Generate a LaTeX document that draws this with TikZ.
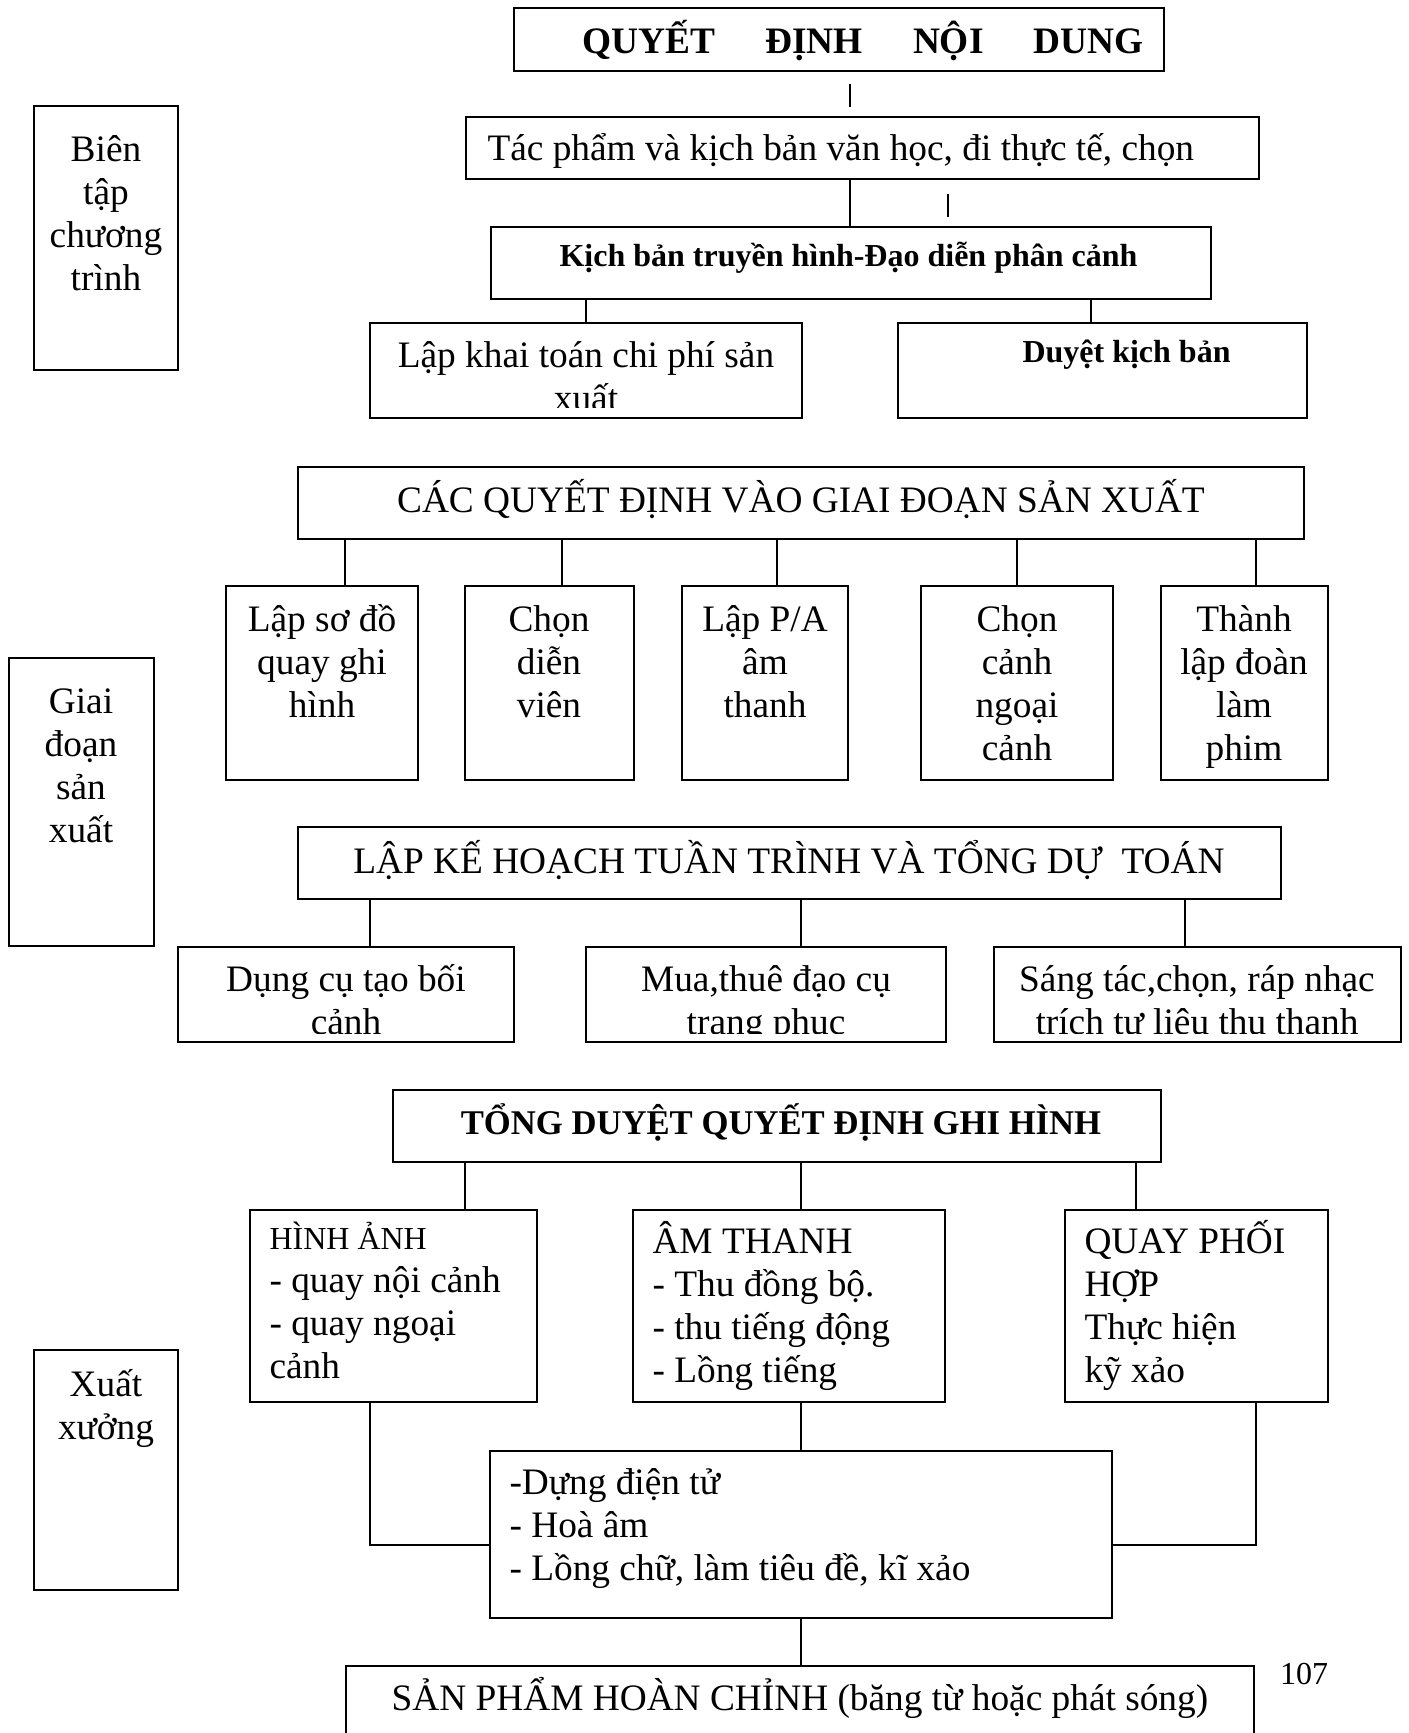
\documentclass[tikz,border=0pt]{standalone}
\usepackage{fontspec}
\setmainfont{Liberation Serif}
\usetikzlibrary{fit}
% type sizes (Word single spacing = 1.15 x size)
\newcommand\fsA{\fontsize{14pt}{16.125pt}\selectfont}
\newcommand\fsB{\fontsize{12pt}{13.8pt}\selectfont}
\newcommand\fsC{\fontsize{13pt}{14.95pt}\selectfont}
% stacked lines whose reference point is the first baseline
\newcommand\colc[1]{\begin{tabular}[t]{@{}c@{}}#1\end{tabular}}
\newcommand\coll[1]{\begin{tabular}[t]{@{}l@{}}#1\end{tabular}}
\begin{document}
\begin{tikzpicture}[x=0.375pt, y=-0.375pt,
  boxn/.style={draw, line width=0.75pt, inner sep=0pt},
  link/.style={line width=0.75pt},
  txc/.style={inner sep=0pt, anchor=base, font=\fsA},
  txl/.style={inner sep=0pt, anchor=base west, font=\fsA},
]
\useasboundingbox (0,0) rectangle (1408,1733);
\fill[white] (0,0) rectangle (1408,1733);
\clip (0,0) rectangle (1408,1733);

% ---------- boxes ----------
\node[boxn, fit={(514,8)(1164,71)}] (top) {};
\node[boxn, fit={(466,117)(1259,179)}] (tac) {};
\node[boxn, fit={(491,227)(1211,299)}] (kich) {};
\node[boxn, fit={(370,323)(802,418)}] (lapkhai) {};
\node[boxn, fit={(898,323)(1307,418)}] (duyet) {};
\node[boxn, fit={(34,106)(178,370)}] (bientap) {};

\node[boxn, fit={(298,467)(1304,539)}] (cac) {};
\node[boxn, fit={(226,586)(418,780)}] (b1) {};
\node[boxn, fit={(465,586)(634,780)}] (b2) {};
\node[boxn, fit={(682,586)(848,780)}] (b3) {};
\node[boxn, fit={(921,586)(1113,780)}] (b4) {};
\node[boxn, fit={(1161,586)(1328,780)}] (b5) {};
\node[boxn, fit={(9,658)(154,946)}] (giai) {};

\node[boxn, fit={(298,827)(1281,899)}] (lapke) {};
\node[boxn, fit={(178,947)(514,1042)}] (d1) {};
\node[boxn, fit={(586,947)(946,1042)}] (d2) {};
\node[boxn, fit={(994,947)(1401,1042)}] (d3) {};

\node[boxn, fit={(393,1090)(1161,1162)}] (tong) {};
\node[boxn, fit={(250,1210)(537,1402)}] (h1) {};
\node[boxn, fit={(633,1210)(945,1402)}] (h2) {};
\node[boxn, fit={(1065,1210)(1328,1402)}] (h3) {};
\node[boxn, fit={(34,1350)(178,1590)}] (xuat) {};
\node[boxn, fit={(490,1451)(1112,1618)}] (dung) {};
\node[boxn, fit={(346,1666)(1254,1780)}] (san) {};

% ---------- connectors ----------
\coordinate (s1a) at (850,84);
\coordinate (s1b) at (850,107);
\coordinate (s2a) at (948,194);
\coordinate (s2b) at (948,217);
\draw[link] (s1a) -- (s1b);
\draw[link] (s2a) -- (s2b);
\coordinate (c850) at (850,0);
\draw[link] (c850 |- tac.south) -- (c850 |- kich.north);
\coordinate (c586) at (586,0);
\coordinate (c1091) at (1091,0);
\draw[link] (c586 |- kich.south) -- (c586 |- lapkhai.north);
\draw[link] (c1091 |- kich.south) -- (c1091 |- duyet.north);

\coordinate (c345) at (345,0);
\coordinate (c562) at (562,0);
\coordinate (c777) at (777,0);
\coordinate (c1017) at (1017,0);
\coordinate (c1256) at (1256,0);
\draw[link] (c345 |- cac.south) -- (c345 |- b1.north);
\draw[link] (c562 |- cac.south) -- (c562 |- b2.north);
\draw[link] (c777 |- cac.south) -- (c777 |- b3.north);
\draw[link] (c1017 |- cac.south) -- (c1017 |- b4.north);
\draw[link] (c1256 |- cac.south) -- (c1256 |- b5.north);

\coordinate (c370) at (370,0);
\coordinate (c801) at (801,0);
\coordinate (c1185) at (1185,0);
\draw[link] (c370 |- lapke.south) -- (c370 |- d1.north);
\draw[link] (c801 |- lapke.south) -- (c801 |- d2.north);
\draw[link] (c1185 |- lapke.south) -- (c1185 |- d3.north);

\coordinate (c465) at (465,0);
\coordinate (c1136) at (1136,0);
\draw[link] (c465 |- tong.south) -- (c465 |- h1.north);
\draw[link] (c801 |- tong.south) -- (c801 |- h2.north);
\draw[link] (c1136 |- tong.south) -- (c1136 |- h3.north);

\coordinate (eL) at (370,1545);
\coordinate (eR) at (1256,1545);
\draw[link] (eL |- h1.south) -- (eL) -- (eL -| dung.west);
\draw[link] (eR |- h3.south) -- (eR) -- (eR -| dung.east);
\draw[link] (c801 |- h2.south) -- (c801 |- dung.north);
\draw[link] (c801 |- dung.south) -- (c801 |- san.north);

% ---------- texts ----------
\node[txl, font=\fsA\bfseries] (t-top) at (582,53)
  {\makebox[210.4pt]{QUYẾT\hfill ĐỊNH\hfill NỘI\hfill DUNG}};
\node[txl] (t-tac) at (487,160) {Tác phẩm và kịch bản văn học, đi thực tế, chọn};
\node[txl, font=\fsB\bfseries] (t-kich) at (559,266) {Kịch bản truyền hình-Đạo diễn phân cảnh};
\begin{scope}
  \clip (lapkhai.north west) rectangle ([yshift=4.4pt]lapkhai.south east);
  \node[txc] (t-lapkhai) at (586,367) {\colc{Lập khai toán chi phí sản\\xuất}};
\end{scope}
\node[txl, font=\fsB\bfseries] (t-duyet) at (1022,362) {Duyệt kịch bản};
\node[txc] (t-bientap) at (106,161) {\colc{Biên\\tập\\chương\\trình}};

\node[txc] (t-cac) at (801,512) {CÁC QUYẾT ĐỊNH VÀO GIAI ĐOẠN SẢN XUẤT};
\node[txc] (t-b1) at (322,631) {\colc{Lập sơ đồ\\quay ghi\\hình}};
\node[txc] (t-b2) at (549,631) {\colc{Chọn\\diễn\\viên}};
\node[txc] (t-b3) at (765,631) {\colc{Lập P/A\\âm\\thanh}};
\node[txc] (t-b4) at (1017,631) {\colc{Chọn\\cảnh\\ngoại\\cảnh}};
\node[txc] (t-b5) at (1244,631) {\colc{Thành\\lập đoàn\\làm\\phim}};
\node[txc] (t-giai) at (81,713) {\colc{Giai\\đoạn\\sản\\xuất}};

\node[txc] (t-lapke) at (789,873) {LẬP KẾ HOẠCH TUẦN TRÌNH VÀ TỔNG DỰ\ \ TOÁN};
\begin{scope}
  \clip (d1.north west) rectangle ([yshift=3.75pt]d1.south east);
  \node[txc] (t-d1) at (346,991) {\colc{Dụng cụ tạo bối\\cảnh}};
\end{scope}
\begin{scope}
  \clip (d2.north west) rectangle ([yshift=3.75pt]d2.south east);
  \node[txc] (t-d2) at (766,991) {\colc{Mua,thuê đạo cụ\\trang phục}};
\end{scope}
\begin{scope}
  \clip (d3.north west) rectangle ([yshift=3.75pt]d3.south east);
  \node[txc] (t-d3) at (1197,991) {\colc{Sáng tác,chọn, ráp nhạc\\trích tư liệu thu thanh}};
\end{scope}

\node[txc, font=\fsC\bfseries] (t-tong) at (781,1134) {TỔNG DUYỆT QUYẾT ĐỊNH GHI HÌNH};
\node[txl] (t-h1) at (269,1249)
  {\coll{{\fsB HÌNH ẢNH}\\- quay nội cảnh\\- quay ngoại\\cảnh}};
\node[txl] (t-h2) at (652,1253)
  {\coll{ÂM THANH\\- Thu đồng bộ.\\- thu tiếng động\\- Lồng tiếng}};
\node[txl] (t-h3) at (1084,1253)
  {\coll{QUAY PHỐI\\HỢP\\Thực hiện\\kỹ xảo}};
\node[txc] (t-xuat) at (106,1396) {\colc{Xuất\\xưởng}};
\node[txl] (t-dung) at (509,1494)
  {\coll{-Dựng điện tử\\- Hoà âm\\- Lồng chữ, làm tiêu đề, kĩ xảo}};
\node[txc] (t-san) at (800,1710) {SẢN PHẨM HOÀN CHỈNH (băng từ hoặc phát sóng)};
\node[txc, font=\fsB] (t-page) at (1304,1684) {107};
\end{tikzpicture}
\end{document}
